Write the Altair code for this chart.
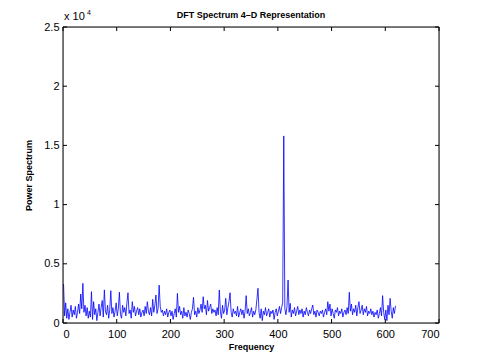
import altair as alt
import pandas as pd

power = [
    3300, 600, 1700, 400, 1200, 300, 900, 1500, 500, 1100,
    700, 1400, 400, 900, 1600, 800, 2450, 1200, 3350, 900,
    1500, 600, 1300, 400, 1000, 500, 2650, 300, 1800, 700,
    1200, 200, 900, 1600, 600, 1300, 1900, 500, 2800, 1000,
    700, 1500, 400, 1100, 2730, 800, 1300, 500, 1000, 1700,
    600, 1200, 2600, 700, 400, 1500, 900, 1300, 600, 1700,
    2560, 800, 1100, 400, 1800, 900, 1400, 600, 1000, 1300,
    700, 1200, 500, 900, 1100, 600, 1400, 800, 1800, 1000,
    700, 1300, 600, 2000, 900, 1500, 2360, 800, 1200, 3200,
    1400, 900, 1100, 600, 1000, 700, 1200, 500, 900, 1100,
    600, 1000, 300, 800, 1200, 500, 2500, 900, 1400, 700,
    1000, 400, 1300, 600, 900, 500, 1100, 800, 300, 900,
    1200, 2170, 700, 1000, 500, 1300, 800, 1100, 1600, 900,
    2220, 1200, 1500, 700, 1900, 1000, 1300, 1600, 800, 1200,
    900, 1100, 600, 1300, 700, 2790, 1000, 400, 1500, 800,
    1100, 2080, 700, 1300, 1800, 2560, 900, 500, 1200, 800,
    1000, 600, 1400, 500, 900, 1200, 700, 1100, 400, 1000,
    2310, 800, 1200, 600, 900, 1300, 500, 1000, 700, 1100,
    2000, 2930, 900, 400, 1200, 200, 1000, 700, 1300, 600,
    900, 1200, 500, 1000, 800, 1100, 300, 900, 1200, 600,
    1000, 1400, 800, 1300, 1700, 15800, 1200, 700, 1400, 3630,
    900, 1660, 500, 1100, 800, 1300, 600, 1000, 1400, 700,
    1100, 800, 1200, 500, 1000, 700, 1300, 900, 600, 1100,
    800, 1200, 1520, 700, 1000, 500, 1100, 900, 600, 1000,
    800, 1100, 500, 900, 1200, 700, 1800, 1000, 1600, 600,
    1200, 800, 400, 1100, 900, 1300, 600, 1000, 800, 1200,
    500, 900, 1100, 700, 1300, 800, 2590, 1000, 1600, 700,
    1200, 900, 1500, 600, 1300, 1800, 800, 1100, 1500, 700,
    1200, 900, 1400, 600, 1000, 800, 1200, 700, 1000, 500,
    900, 700, 1100, 400, 800, 1300, 600, 2310, 900, 300,
    1100, 200, 1500, 700, 2080, 1000, 400, 1300, 800, 1450,
]
frequency = [1 + 2 * i for i in range(len(power))]

x_ticks = [0, 100, 200, 300, 400, 500, 600, 700]
y_ticks = [0, 5000, 10000, 15000, 20000, 25000]
title_text = "DFT Spectrum 4–D Representation"

W, H = 376, 296
df = pd.DataFrame({"f": frequency, "p": power})

xs = alt.Scale(domain=[0, 700], nice=False)
ys = alt.Scale(domain=[0, 25000], nice=False)

FONT = "Liberation Sans"

line = alt.Chart(df).mark_line(color="#0000FF", strokeWidth=0.8, clip=True).encode(
    x=alt.X("f:Q", scale=xs, axis=alt.Axis(
        values=x_ticks, title="Frequency", tickSize=0, domain=False, grid=False,
        labelFont=FONT, labelFontSize=11, labelColor="black", labelPadding=5,
        titleFont=FONT, titleFontSize=9, titleFontWeight="bold", titleColor="black",
        titlePadding=3)),
    y=alt.Y("p:Q", scale=ys, axis=alt.Axis(
        values=y_ticks, title="Power Spectrum", tickSize=0, domain=False, grid=False,
        labelExpr="datum.value / 10000",
        labelFont=FONT, labelFontSize=11, labelColor="black", labelPadding=4,
        titleFont=FONT, titleFontSize=9, titleFontWeight="bold", titleColor="black",
        titlePadding=10)),
)

xt = pd.DataFrame({"v": x_ticks})
yt = pd.DataFrame({"v": y_ticks})
TL = 4
xb = alt.Chart(xt).mark_rule(color="black", strokeWidth=1).encode(
    x=alt.X("v:Q", scale=xs), y=alt.value(H), y2=alt.value(H - TL))
xtop = alt.Chart(xt).mark_rule(color="black", strokeWidth=1).encode(
    x=alt.X("v:Q", scale=xs), y=alt.value(0), y2=alt.value(TL))
yl = alt.Chart(yt).mark_rule(color="black", strokeWidth=1).encode(
    y=alt.Y("v:Q", scale=ys), x=alt.value(0), x2=alt.value(TL))
yr = alt.Chart(yt).mark_rule(color="black", strokeWidth=1).encode(
    y=alt.Y("v:Q", scale=ys), x=alt.value(W), x2=alt.value(W - TL))

frame_h = alt.Chart(pd.DataFrame({"yy": [0, H]})).mark_rule(color="black", strokeWidth=1).encode(
    y=alt.Y("yy:Q", scale=None), x=alt.value(0), x2=alt.value(W))
frame_v = alt.Chart(pd.DataFrame({"xx": [0, W]})).mark_rule(color="black", strokeWidth=1).encode(
    x=alt.X("xx:Q", scale=None), y=alt.value(0), y2=alt.value(H))

mult = alt.Chart(pd.DataFrame({"t": ["x 10"]})).mark_text(
    font=FONT, fontSize=11, align="left", baseline="alphabetic", color="black"
).encode(text="t:N", x=alt.value(1), y=alt.value(-7))
expo = alt.Chart(pd.DataFrame({"t": ["4"]})).mark_text(
    font=FONT, fontSize=7, align="left", baseline="alphabetic", color="black"
).encode(text="t:N", x=alt.value(24), y=alt.value(-12))
ttl = alt.Chart(pd.DataFrame({"t": [title_text]})).mark_text(
    font=FONT, fontSize=9, fontWeight="bold", align="center", baseline="middle", color="black"
).encode(text="t:N", x=alt.value(W / 2), y=alt.value(-12))

chart = alt.layer(line, xb, xtop, yl, yr, frame_h, frame_v, mult, expo, ttl).properties(
    width=W, height=H,
    autosize=alt.AutoSizeParams(type="none"),
    padding={"left": 55, "top": 19, "right": 30, "bottom": 33},
).configure_view(stroke=None).configure(background="white")

chart.save("out.html", embed_options={"renderer": "svg", "actions": False})
